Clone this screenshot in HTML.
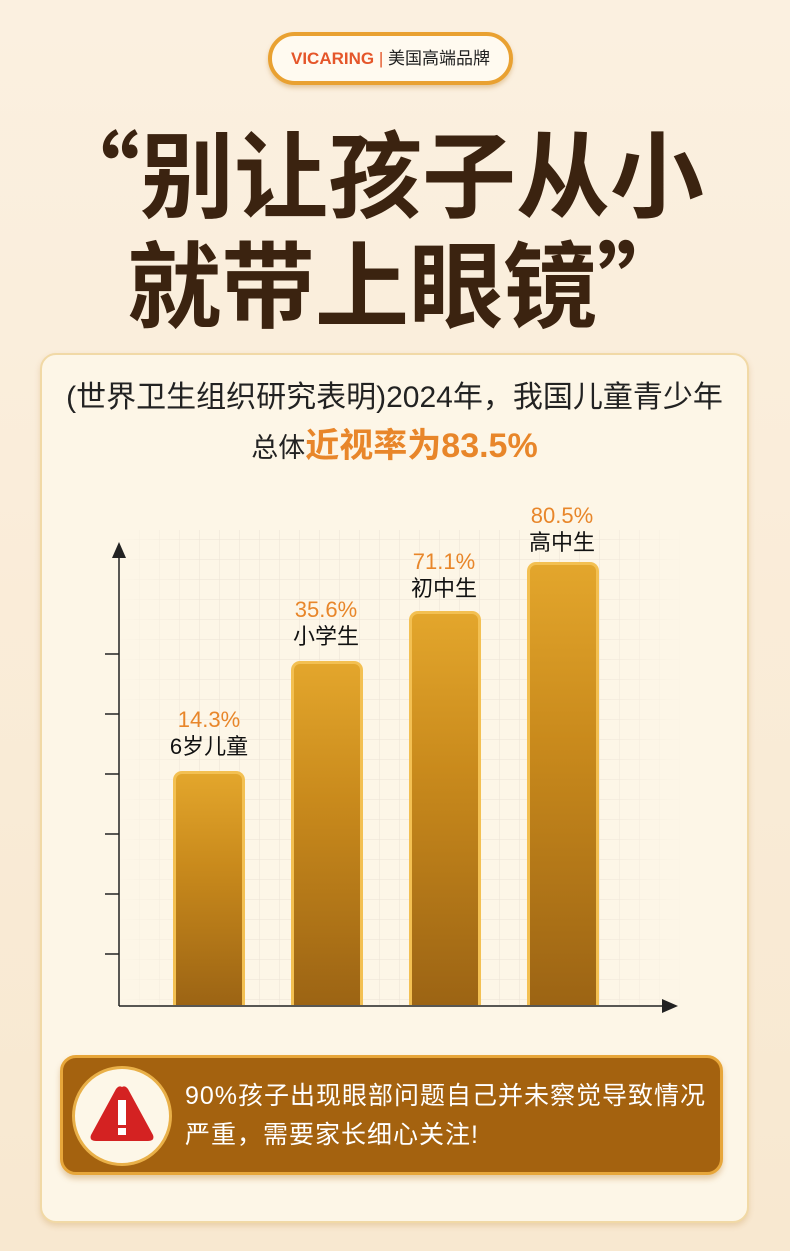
<!DOCTYPE html>
<html><head><meta charset="utf-8"><style>
*{margin:0;padding:0;box-sizing:border-box}
body{width:790px;height:1251px;overflow:hidden;background:linear-gradient(#fbf0e0,#f8e8d0);font-family:"Liberation Sans","Noto Sans CJK SC",sans-serif;position:relative}
.a{position:absolute}
.badge{left:268px;top:32px;width:245px;height:53px;border-radius:27px;background:#fffaf0;border:4px solid #e9a131;box-shadow:0 3px 4px rgba(190,130,40,.35);font-size:17px;line-height:45px;text-align:center;color:#222}
.badge b{color:#e5562a;font-weight:bold}
.title{left:0;width:790px;text-align:center;font-size:94px;font-weight:bold;color:#3b2310;font-family:"Noto Sans CJK SC",sans-serif;white-space:nowrap}
.card{left:40px;top:353px;width:709px;height:870px;border-radius:16px;background:#fdf6e7;border:2px solid #f1d9a6;box-shadow:0 3px 6px rgba(200,150,80,.3)}
.bar{bottom:246px;width:72px;border-radius:9px 9px 0 0;background:linear-gradient(#e3a62c,#c98a1c 40%,#9c6414);border:3px solid #f3c052;border-bottom:none}
.lab{width:140px;text-align:center;font-size:22px;line-height:27px;color:#111}
.lab span{color:#e8862a;display:block}
.warn{left:60px;top:1055px;width:663px;height:120px;border-radius:16px;background:#a4620f;border:3px solid #e7a63a;box-shadow:0 4px 6px rgba(180,120,40,.35)}
</style></head><body>
<div class="a badge"><b>VICARING</b> <span style="color:#e5562a">|</span> 美国高端品牌</div>
<div class="a title" style="top:108px;line-height:124px;left:-20px">“别让孩子从小</div>
<div class="a title" style="top:218px;line-height:124px;left:14px">就带上眼镜”</div>
<div class="a card"></div>
<div class="a" style="left:40px;width:709px;top:378px;text-align:center;font-size:30px;color:#222;line-height:40px;white-space:nowrap">(世界卫生组织研究表明)2024年，我国儿童青少年</div>
<div class="a" style="left:40px;width:709px;top:424px;text-align:center;font-size:27px;color:#222;line-height:44px">总体<b style="color:#e8862a;font-size:34px">近视率为83.5%</b></div>
<svg class="a" style="left:0;top:520px" width="790" height="500">
<defs><pattern id="g" width="20" height="20" patternUnits="userSpaceOnUse"><path d="M20 0V20H0" fill="none" stroke="#ece3d6" stroke-width="1"/></pattern>
<linearGradient id="f" x1="0" y1="0" x2="1" y2="0"><stop offset="0" stop-color="#fdf6e7"/><stop offset=".15" stop-color="#fdf6e7" stop-opacity="0"/><stop offset=".85" stop-color="#fdf6e7" stop-opacity="0"/><stop offset="1" stop-color="#fdf6e7"/></linearGradient></defs>
<rect x="120" y="10" width="560" height="475" fill="url(#g)"/>
<rect x="110" y="0" width="580" height="485" fill="url(#f)"/>
<g stroke="#222" stroke-width="1.5"><line x1="119" y1="35" x2="119" y2="486"/><line x1="119" y1="486" x2="665" y2="486"/>
<line x1="105" y1="134" x2="119" y2="134"/><line x1="105" y1="194" x2="119" y2="194"/><line x1="105" y1="254" x2="119" y2="254"/><line x1="105" y1="314" x2="119" y2="314"/><line x1="105" y1="374" x2="119" y2="374"/><line x1="105" y1="434" x2="119" y2="434"/></g>
<polygon points="119,22 112,38 126,38" fill="#222"/><polygon points="678,486 662,479 662,493" fill="#222"/>
</svg>
<div class="a bar" style="left:173px;height:234px;top:771px"></div>
<div class="a bar" style="left:291px;height:344px;top:661px"></div>
<div class="a bar" style="left:409px;height:394px;top:611px"></div>
<div class="a bar" style="left:527px;height:443px;top:562px"></div>
<div class="a lab" style="left:139px;top:706px"><span>14.3%</span>6岁儿童</div>
<div class="a lab" style="left:256px;top:596px"><span>35.6%</span>小学生</div>
<div class="a lab" style="left:374px;top:548px"><span>71.1%</span>初中生</div>
<div class="a lab" style="left:492px;top:502px"><span>80.5%</span>高中生</div>
<div class="a warn"></div>
<div class="a" style="left:72px;top:1066px;width:100px;height:100px;border-radius:50%;background:#fdf7e8;border:3px solid #e9b048"></div>
<svg class="a" style="left:88px;top:1083px" width="68" height="62"><path d="M34 4 Q37 2 40 6 L65 52 Q67 58 60 58 L8 58 Q1 58 3 52 L28 6 Q31 2 34 4Z" fill="#d42222"/><rect x="30" y="17" width="8" height="25" fill="#fff"/><rect x="30" y="45" width="8" height="7" fill="#fff"/></svg>
<div class="a" style="left:185px;top:1077px;font-size:25px;line-height:39px;color:#fff;letter-spacing:1px;white-space:nowrap">90%孩子出现眼部问题自己并未察觉导致情况<br>严重，需要家长细心关注!</div>
</body></html>
